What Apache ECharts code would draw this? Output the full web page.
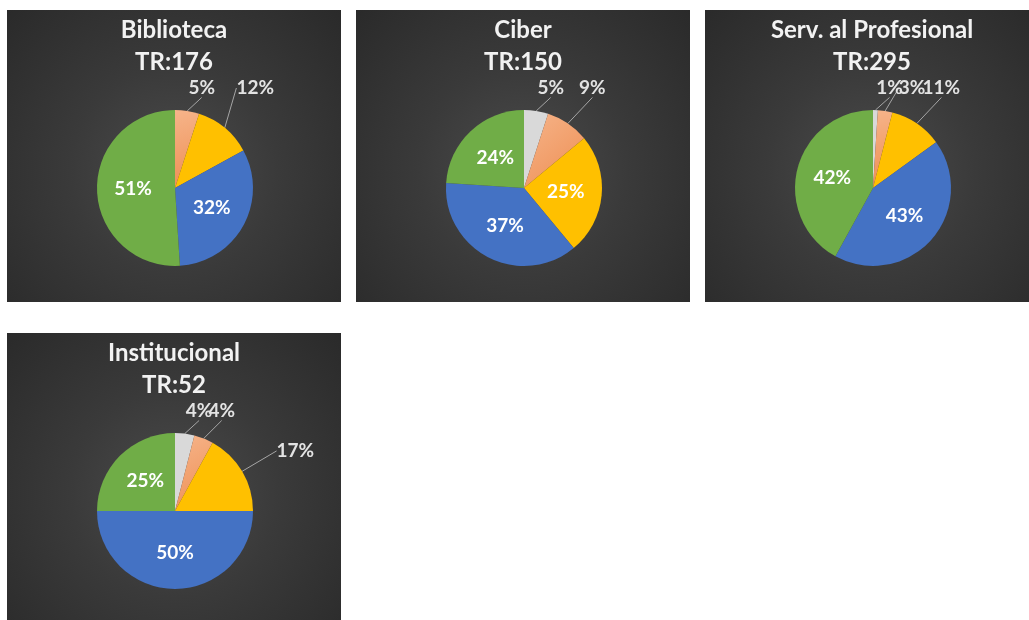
<!DOCTYPE html>
<html>
<head>
<meta charset="utf-8">
<script src="https://cdn.jsdelivr.net/npm/echarts@6/dist/echarts.min.js"></script>
<style>
  html, body { margin: 0; padding: 0; background: #fff; width: 1029px; height: 620px; overflow: hidden; }
  .panel {
    position: absolute;
    width: 334px;
    height: 292px;
    background: radial-gradient(circle at 50% 55%, #4b4b4b 0%, #3a3a3a 45%, #2a2a2a 100%);
  }
</style>
</head>
<body>
<div class="panel" id="chart0" style="left:7px;top:10px"></div>
<div class="panel" id="chart1" style="left:356px;top:10px"></div>
<div class="panel" id="chart2" style="left:705px;top:10px"></div>
<div class="panel" id="chart3" style="left:7px;top:333px"></div>

<script>
// slices go clockwise from 12 o'clock
const categories = ['Cat. 1', 'Cat. 2', 'Cat. 3', 'Cat. 4', 'Cat. 5'];
const sliceColors = ['#D9D9D9', '#F4A576', '#FFC000', '#4472C4', '#70AD47'];

const titles = ['Biblioteca', 'Ciber', 'Serv. al Profesional', 'Institucional'];
const totals = [176, 150, 295, 52];

// percentages
const biblioteca = [0, 5, 12, 32, 51];
const ciber = [5, 9, 25, 37, 24];
const servProfesional = [1, 3, 11, 43, 42];
const institucional = [4, 4, 17, 50, 25];

const panelValues = [biblioteca, ciber, servProfesional, institucional];

const FONT = 'Lato, "Open Sans", sans-serif';
const LABEL_SIZE = 19;
const CENTER = [168, 178];
const RADIUS = 78;

const measureCtx = document.createElement('canvas').getContext('2d');
measureCtx.font = 'bold ' + LABEL_SIZE + 'px ' + FONT;

// excel-like spots for the small slices' labels (row above the pie)
function outsideLabelSpots(values) {
    const total = values.reduce((a, b) => a + b, 0);
    let acc = 0;
    let prevRight = -Infinity;
    return values.map(v => {
        const theta = (acc + v / 2) / total * 2 * Math.PI;
        acc += v;
        if (v === 0 || v >= 20) return null;
        const w = measureCtx.measureText(v + '%').width;
        if (theta < Math.PI / 4) {
            const dy = -(RADIUS + 22);
            let dx = (RADIUS + 22) * Math.tan(theta) * 0.8 + 14;
            dx = Math.max(dx, prevRight + w / 2 - 4);
            prevRight = dx + w / 2;
            return { x: CENTER[0] + dx, y: CENTER[1] + dy, align: 'center' };
        }
        const d = RADIUS + 40;
        return { x: CENTER[0] + d * Math.sin(theta), y: CENTER[1] - d * Math.cos(theta), align: 'left' };
    });
}

function buildData(values) {
    return values.map((v, i) => {
        const inside = v >= 20;
        return {
            name: categories[i],
            value: v,
            itemStyle: {
                color: i === 1
                    ? new echarts.graphic.LinearGradient(0, 0, 1, 1, [
                        { offset: 0, color: '#F6B48A' },
                        { offset: 1, color: '#EE8E52' }
                    ])
                    : sliceColors[i]
            },
            label: {
                show: v > 0,
                position: inside ? 'inside' : 'outside',
                color: inside ? '#FFFFFF' : '#E3E3E3',
                fontWeight: 'bold',
                fontSize: LABEL_SIZE,
                fontFamily: FONT
            },
            labelLine: { show: v > 0 && !inside }
        };
    });
}

function chartInt(idx) {
    const chart = echarts.init(document.getElementById('chart' + idx), null, { renderer: 'canvas' });
    const spots = outsideLabelSpots(panelValues[idx]);
    const option = {
        animation: false,
        title: {
            text: titles[idx] + '\nTR:' + totals[idx],
            left: 'center',
            top: -1,
            textStyle: {
                color: '#F2F2F2',
                fontFamily: FONT,
                fontWeight: 'bold',
                fontSize: 24,
                lineHeight: 32
            }
        },
        series: [
            {
                type: 'pie',
                center: CENTER,
                radius: RADIUS,
                startAngle: 90,
                clockwise: true,
                avoidLabelOverlap: false,
                data: buildData(panelValues[idx]),
                label: {
                    formatter: '{c}%',
                    fontFamily: FONT,
                    fontWeight: 'bold',
                    fontSize: LABEL_SIZE
                },
                labelLine: {
                    length: 18,
                    length2: 0,
                    lineStyle: { color: '#A6A6A6', width: 1 }
                },
                labelLayout: function (p) {
                    const s = spots[p.dataIndex];
                    if (!s) return { hideOverlap: false };
                    return { x: s.x, y: s.y, align: s.align, verticalAlign: 'middle', hideOverlap: false };
                },
                itemStyle: { borderWidth: 0 }
            }
        ]
    };
    chart.setOption(option);
}

[0, 1, 2, 3].forEach(chartInt);
</script>
</body>
</html>
